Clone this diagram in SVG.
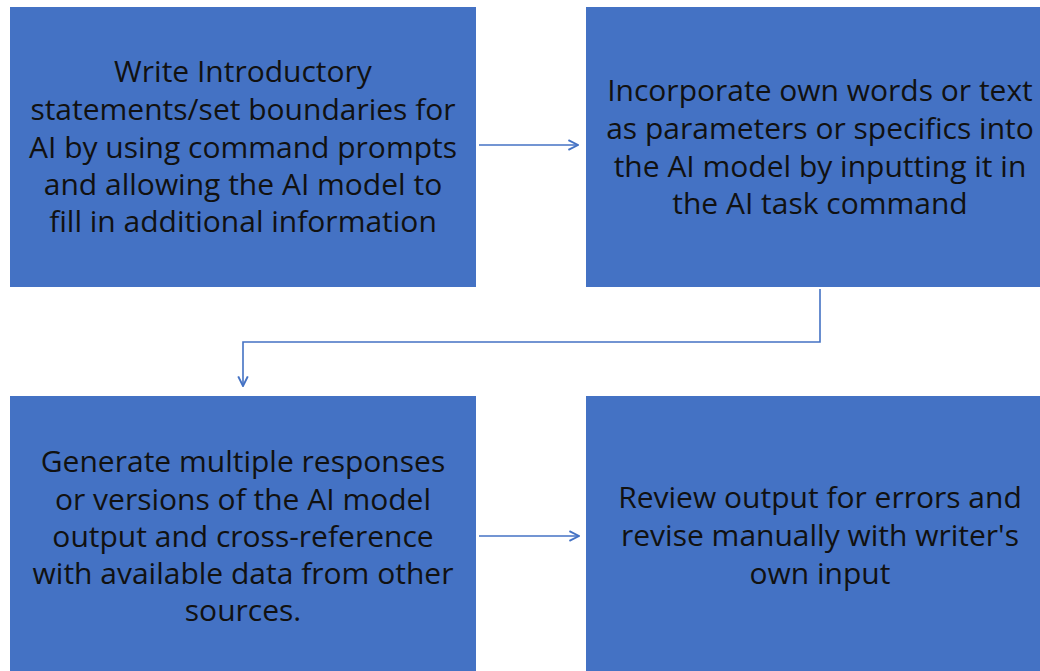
<svg xmlns="http://www.w3.org/2000/svg" width="1040" height="671" viewBox="0 0 1040 671">
<style>
.box{fill:#4472C4;}
.t{font-family:"Open Sans","Noto Sans","Liberation Sans",sans-serif;font-size:30px;fill:#111111;text-anchor:middle;}
.c{fill:none;stroke:#4472C4;stroke-width:1.6;}
</style>
<defs>
<marker id="ah" viewBox="0 0 10 10" refX="9" refY="5" markerWidth="12" markerHeight="12" markerUnits="userSpaceOnUse" orient="auto">
<path d="M1,1 L9,5 L1,9" fill="none" stroke="#4472C4" stroke-width="1.6"/>
</marker>
</defs>
<rect width="1040" height="671" fill="#ffffff"/>
<g id="node1">
<rect class="box" x="10" y="7" width="466" height="280"/>
<text class="t" x="243" y="82">Write Introductory</text>
<text class="t" x="243" y="120">statements/set boundaries for</text>
<text class="t" x="243" y="158">AI by using command prompts</text>
<text class="t" x="243" y="195">and allowing the AI model to</text>
<text class="t" x="243" y="232">fill in additional information</text>
</g>
<g id="node2">
<rect class="box" x="586" y="7" width="468" height="280"/>
<text class="t" x="820" y="101">Incorporate own words or text</text>
<text class="t" x="820" y="139">as parameters or specifics into</text>
<text class="t" x="820" y="177">the AI model by inputting it in</text>
<text class="t" x="820" y="214">the AI task command</text>
</g>
<g id="node3">
<rect class="box" x="10" y="396" width="466" height="280"/>
<text class="t" x="243" y="472">Generate multiple responses</text>
<text class="t" x="243" y="510">or versions of the AI model</text>
<text class="t" x="243" y="547">output and cross-reference</text>
<text class="t" x="243" y="584">with available data from other</text>
<text class="t" x="243" y="621">sources.</text>
</g>
<g id="node4">
<rect class="box" x="586" y="396" width="468" height="280"/>
<text class="t" x="820" y="508">Review output for errors and</text>
<text class="t" x="820" y="546">revise manually with writer's</text>
<text class="t" x="820" y="584">own input</text>
</g>
<g id="connectors">
<path class="c" d="M479,145 H578" marker-end="url(#ah)"/>
<path class="c" d="M820,289 V342 H243 V386" marker-end="url(#ah)"/>
<path class="c" d="M479,536 H579" marker-end="url(#ah)"/>
</g>
</svg>
